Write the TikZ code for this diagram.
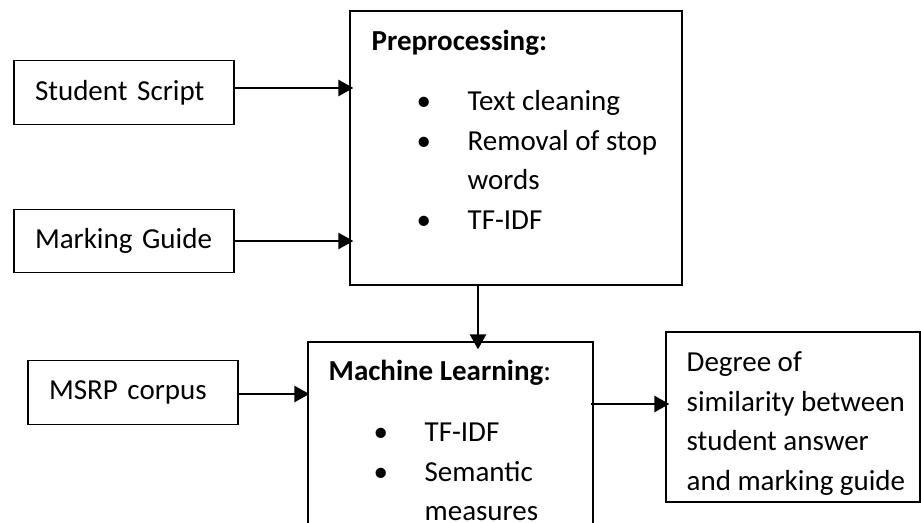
\documentclass[tikz,border=0pt]{standalone}
\usepackage{fontspec}
\setmainfont{Carlito}
\usetikzlibrary{arrows.meta,calc}
\tikzset{
  txt/.style={font=\fontsize{16.5}{22.5}\selectfont},
  box/.style={draw, line width=0.8pt, inner sep=0pt},
  smallbox/.style={box, txt, minimum width=4.4cm, minimum height=1.27cm, text width=3.56cm, align=left},
  boxtext/.style={txt, anchor=north west, inner sep=0pt, align=left},
  link/.style={line width=1.5pt, -{Triangle[length=0.3cm,width=0.32cm]}}
}
\newcommand{\itm}{\hspace*{0.9cm}\makebox[1.02cm][l]{\textbullet}}
\newcommand{\cnt}{\hspace*{1.92cm}}

\begin{document}
\begin{tikzpicture}[x=0.02cm,y=-0.02cm]
  \useasboundingbox (0,0) rectangle (921,523);
  % input boxes
  \node[smallbox] (stud) at (124,92.5) {Student Script};
  \node[smallbox] (mark) at (124,241) {Marking Guide};
  \node[smallbox, minimum width=4.2cm, text width=3.36cm] (msrp) at (133,392.5) {MSRP corpus};
  % processing boxes
  \node[box, minimum width=6.64cm, minimum height=5.48cm] (prep) at (516,148) {};
  \node[box, minimum width=5.7cm, minimum height=4.4cm] (ml) at (450.5,452) {};
  \node[box, minimum width=5.08cm, minimum height=3.4cm] (deg) at (793,417) {};
  \node[boxtext] (preptxt) at ([shift={(22,19)}]prep.north west)
    {{\bfseries Preprocessing:}\\[0.42cm]
     \itm Text cleaning\\
     \itm Removal of stop\\
     \cnt words\\
     \itm TF-IDF};
  \node[boxtext] (mltxt) at ([shift={(21,18)}]ml.north west)
    {{\bfseries Machine Learning}:\\[0.44cm]
     \itm TF-IDF\\
     \itm Semantic\\
     \cnt measures};
  \node[boxtext] (degtxt) at ([shift={(21,20)}]deg.north west)
    {Degree of\\
     similarity between\\
     student answer\\
     and marking guide};
  % arrows
  \draw[link] ($(stud.east)+(0,-4.5)$) -- ($(stud.east -| prep.west)+(4,-4.5)$);
  \draw[link] (mark.east) -- ($(mark.east -| prep.west)+(4,0)$);
  \draw[link] ($(msrp.east)+(0,1.5)$) -- ($(msrp.east -| ml.west)+(2,1.5)$);
  \draw[link] ($(prep.south)+(-38,0)$) -- ($(prep.south |- ml.north)+(-38,8)$);
  \draw[link] ($(ml.east)+(-3,-48)$) -- ($(ml.east -| deg.west)+(4,-48)$);
\end{tikzpicture}
\end{document}
